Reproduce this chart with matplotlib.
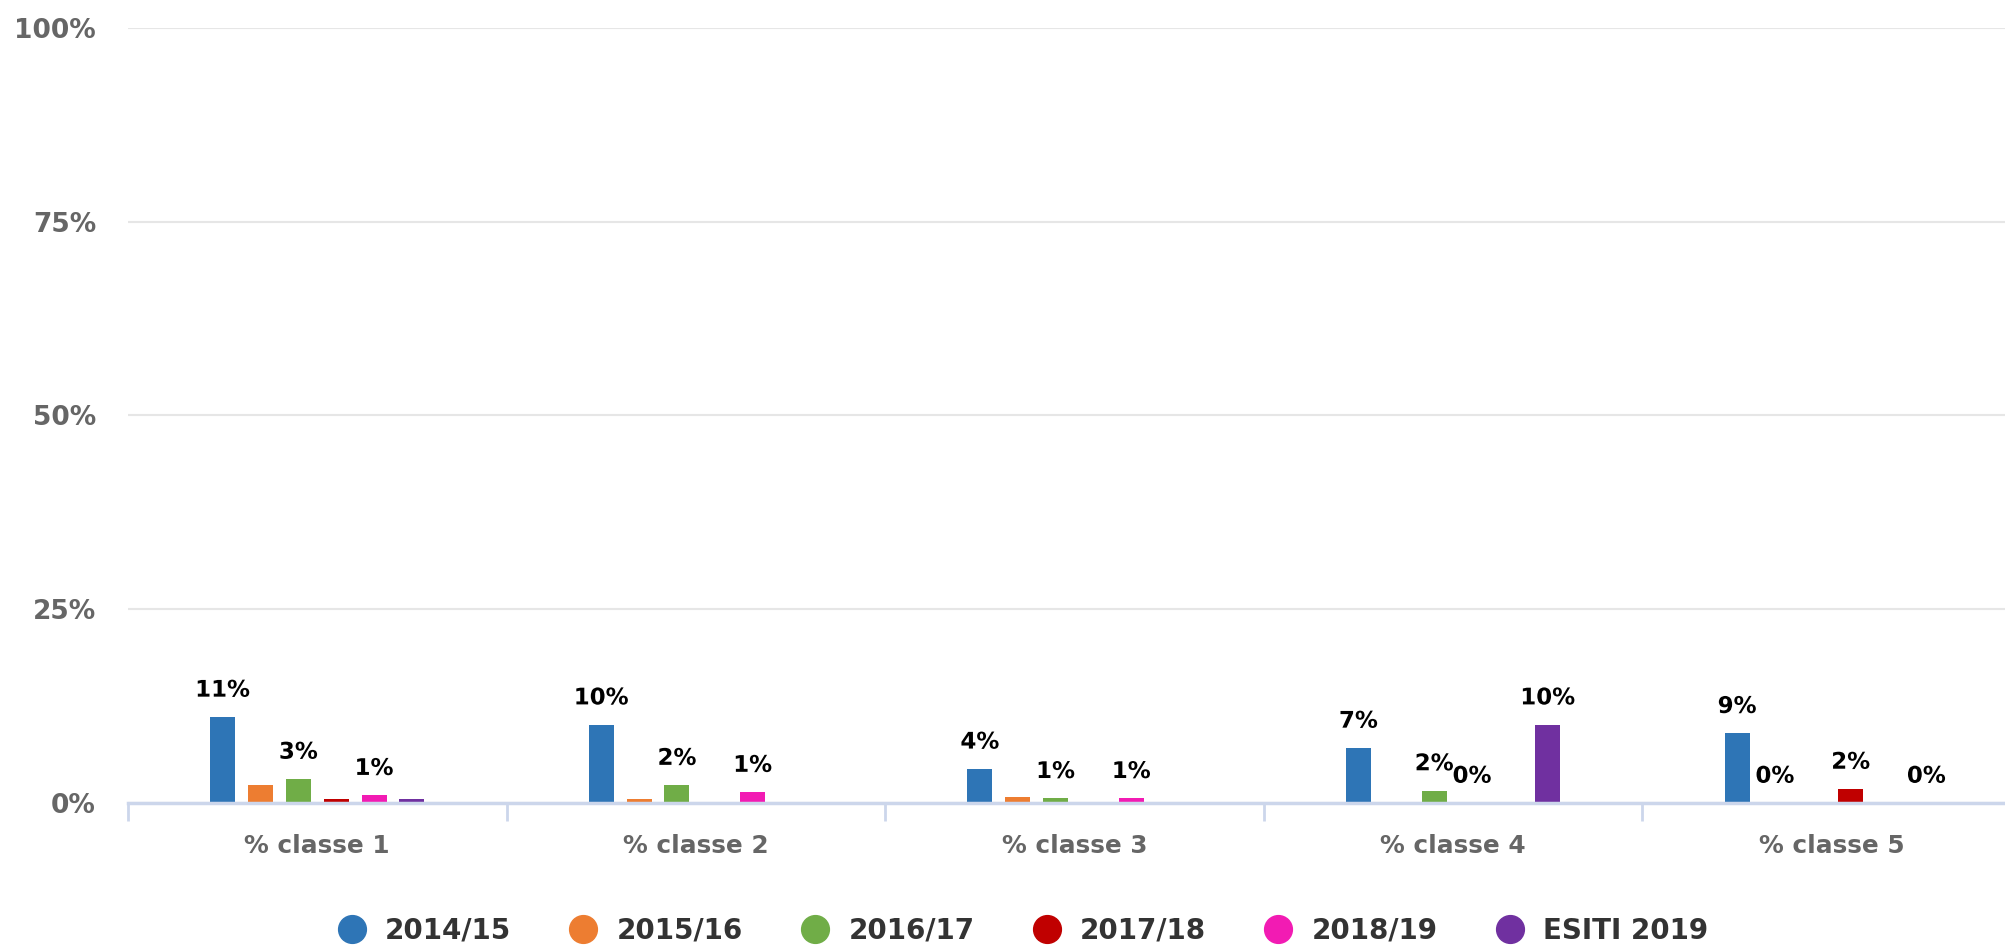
import matplotlib
matplotlib.use("Agg")
import matplotlib.pyplot as plt
import matplotlib.patheffects as pe
import numpy as np
from matplotlib.lines import Line2D

plt.rcParams["font.family"] = ["DejaVu Sans"]

categories = ["% classe 1", "% classe 2", "% classe 3", "% classe 4", "% classe 5"]
series_names = ["2014/15", "2015/16", "2016/17", "2017/18", "2018/19", "ESITI 2019"]
colors = ["#2e75b6", "#ed7d31", "#70ad47", "#c00000", "#f21bb3", "#7030a0"]

# None = no bar at all for that class
s_2014 = [11.1, 10.1, 4.4, 7.1, 9.0]
s_2015 = [2.3, 0.5, 0.8, None, 0.0]
s_2016 = [3.1, 2.3, 0.6, 1.6, None]
s_2017 = [0.5, None, None, 0.0, 1.8]
s_2018 = [1.0, 1.4, 0.6, None, None]
s_esiti = [0.5, None, None, 10.1, 0.0]
series = [s_2014, s_2015, s_2016, s_2017, s_2018, s_esiti]

# which data labels survive the overlap hiding in the original
label_shown = [
    [True, True, True, True, True],
    [False, False, False, False, True],
    [True, True, True, True, False],
    [False, False, False, True, True],
    [True, True, True, False, False],
    [False, False, False, True, True],
]
yticks = [0, 25, 50, 75, 100]

fig = plt.figure(figsize=(20.06, 9.49), dpi=100)
ax = fig.add_axes([0.0638, 0.1539, 0.9437, 0.8166])

x = np.arange(len(categories))
step = 0.1
width = 0.066
for i, (vals, color) in enumerate(zip(series, colors)):
    offset = (i - 2.5) * step
    for j, v in enumerate(vals):
        if v is None:
            continue
        ax.bar(x[j] + offset, v, width=width, color=color, zorder=3)
        if label_shown[i][j]:
            ax.annotate(
                f"{v:.0f}%",
                (x[j] + offset, v),
                xytext=(0, 11),
                textcoords="offset points",
                ha="center",
                va="bottom",
                fontsize=16.5,
                fontweight="bold",
                color="black",
                path_effects=[pe.withStroke(linewidth=3, foreground="white")],
                zorder=5,
            )

ax.set_xlim(-0.5, len(categories) - 0.5)
ax.set_ylim(0, 100)
ax.set_yticks(yticks)
ax.set_yticklabels([f"{t}%" for t in yticks])
ax.yaxis.grid(True, color="#e6e6e6", linewidth=1.5, zorder=0)
ax.tick_params(axis="y", length=0, pad=23, labelsize=19, labelcolor="#666666")
for lbl in ax.get_yticklabels():
    lbl.set_fontweight("bold")

# category labels between boundary ticks
ax.set_xticks(np.arange(-0.5, len(categories), 1.0))
ax.set_xticklabels([])
ax.set_xticks(x, minor=True)
ax.set_xticklabels(categories, minor=True)
ax.tick_params(axis="x", which="major", length=13, width=2, color="#ccd6eb")
ax.tick_params(axis="x", which="minor", length=0, pad=22, labelsize=17.8, labelcolor="#666666")
for lbl in ax.get_xticklabels(minor=True):
    lbl.set_fontweight("bold")

for side in ["top", "right", "left"]:
    ax.spines[side].set_visible(False)
ax.spines["bottom"].set_color("#ccd6eb")
ax.spines["bottom"].set_linewidth(2.5)
ax.spines["bottom"].set_zorder(4)

handles = [
    Line2D([], [], marker="o", linestyle="none", markersize=20, color=c)
    for c in colors
]
leg = fig.legend(
    handles,
    series_names,
    loc="center",
    bbox_to_anchor=(0.51, 0.019),
    ncol=len(series_names),
    frameon=False,
    handlelength=1.0,
    handletextpad=0.7,
    columnspacing=2.1,
    prop={"size": 20, "weight": "bold"},
)
for t in leg.get_texts():
    t.set_color("#333333")

fig.savefig("out.png", dpi=100)
